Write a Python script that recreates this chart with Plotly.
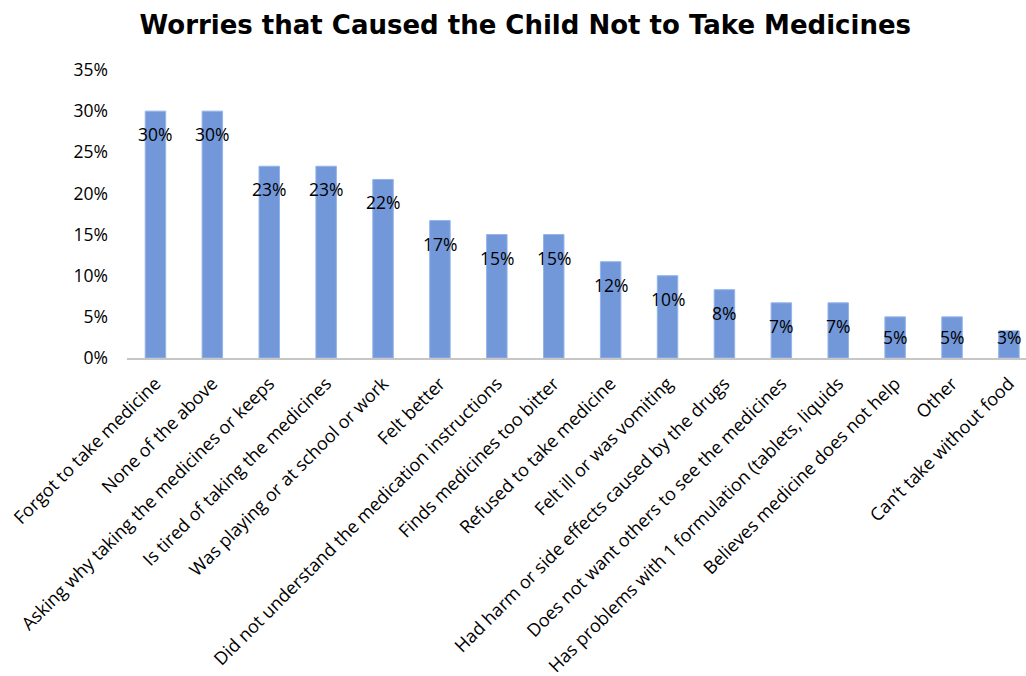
import plotly.graph_objects as go

categories = [
    "Forgot to take medicine",
    "None of the above",
    "Asking why taking the medicines or keeps",
    "Is tired of taking the medicines",
    "Was playing or at school or work",
    "Felt better",
    "Did not understand the medication instructions",
    "Finds medicines too bitter",
    "Refused to take medicine",
    "Felt ill or was vomiting",
    "Had harm or side effects caused by the drugs",
    "Does not want others to see the medicines",
    "Has problems with 1 formulation (tablets, liquids",
    "Believes medicine does not help",
    "Other",
    "Can\u2019t take without food",
]
shares = [0.300, 0.300, 0.233, 0.233, 0.217, 0.167, 0.150, 0.150,
          0.117, 0.100, 0.083, 0.067, 0.067, 0.050, 0.050, 0.033]
y_ticks = [0, 0.05, 0.10, 0.15, 0.20, 0.25, 0.30, 0.35]

FONT = "Open Sans"

fig = go.Figure()
fig.add_trace(go.Bar(
    x=categories,
    y=shares,
    marker=dict(color="#7298da", line=dict(color="#94b3e9", width=1)),
    width=0.36,
    hoverinfo="skip",
))

# value labels just inside the top of each bar, kept above the baseline
for cat, v in zip(categories, shares):
    fig.add_annotation(
        x=cat, y=max(v, 0.053), text=f"{v:.0%}", showarrow=False,
        yanchor="middle", yshift=-23,
        font=dict(family=FONT, size=17.5, color="#000000"),
    )

fig.update_layout(
    width=1026, height=676,
    margin=dict(l=127, r=0, t=70, b=318),
    paper_bgcolor="white", plot_bgcolor="white",
    showlegend=False,
    title=dict(
        text="<b>Worries that Caused the Child Not to Take Medicines</b>",
        x=0.512, xanchor="center", y=0.963, yanchor="middle",
        font=dict(family="DejaVu Sans", size=26, color="#000000"),
    ),
    xaxis=dict(
        range=[-0.5, 15.3],
        tickangle=-45,
        tickfont=dict(family=FONT, size=18, color="#000000"),
        showline=True, linecolor="#c6c6c6", linewidth=2,
        showgrid=False, ticks="", ticklabelstandoff=6,
    ),
    yaxis=dict(
        range=[0, 0.35],
        tickvals=y_ticks,
        tickformat=".0%",
        tickfont=dict(family=FONT, size=17.5, color="#000000"),
        showgrid=False, zeroline=False, showline=False,
        ticks="", ticklabelstandoff=18,
    ),
)

fig.write_html("out.html")
